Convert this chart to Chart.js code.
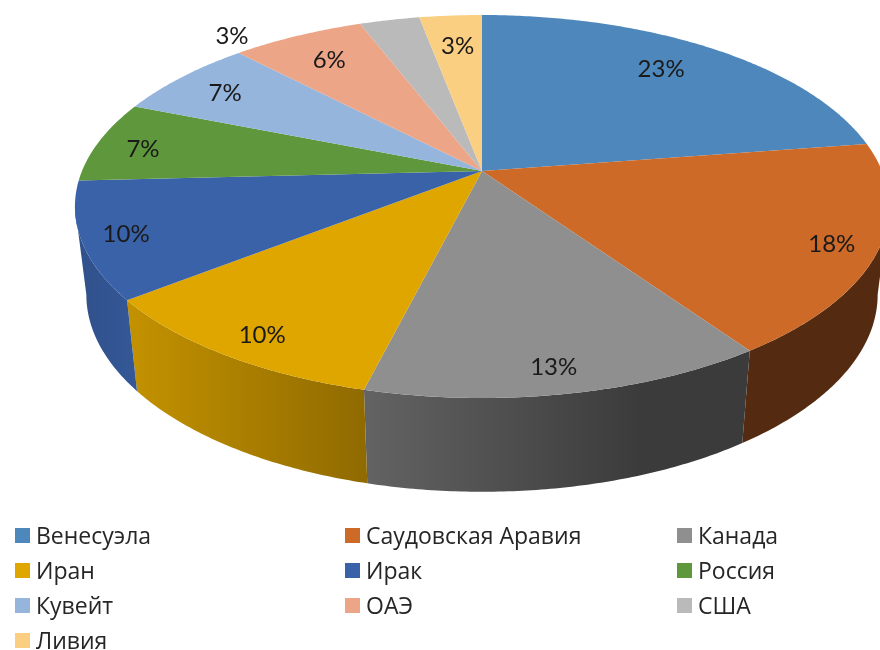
<!DOCTYPE html>
<html lang="ru">
<head>
<meta charset="utf-8">
<style>html,body{margin:0;padding:0;background:#fff}canvas{display:block}</style>
<script src="https://cdn.jsdelivr.net/npm/chart.js@4"></script>
</head>
<body>
<canvas id="c" width="880" height="650"></canvas>
<script>
const countries = ["Венесуэла","Саудовская Аравия","Канада","Иран","Ирак","Россия","Кувейт","ОАЭ","США","Ливия"];
const shares = [22.6,17.8,13.49,10.49,9.8,6.9,6.8,6.3,2.85,2.97];
const colors = ["#4e87bb","#cd6a28","#8f8f8f","#dfa600","#3a62a8","#5f973d","#95b5dd","#eca587","#bababa","#fbcf82"];

// Styling only: wall shade at the left and right end of each slice, and the share of the width the ramp covers
const wallShade = [[.4,.4,1],[.41,.41,1],[.69,.41,.72],[.88,.64,1],[.82,.9,1],[.8,.8,1],[.8,.8,1],[.8,.8,1],[.8,.8,1],[.8,.8,1]];
// Styling only: label placement relative to each slice's mid-angle [radius, angle nudge deg]
const labelPlace = [[.791,-1.6],[.894,.9],[.9,.7],[.896,-1.1],[.896,-.3],[.875,-1.5],[.834,-.8],[.8,-.2],[1.11,-24.8],[.776,.2]];

const view = {cx:482, cy:171, a:400, d:184.9, c:-.1854, wallKx:.972, wallKy:1.03, wallDy:87};
const project = (u,v) => { const w = 1 + view.c*v; return [view.cx + view.a*u/w, view.cy + view.d*v/w]; };
const projectLow = (u,v) => { const w = 1 + view.c*v;
  return [view.cx + view.wallKx*view.a*u/w, view.cy + view.wallKy*view.d*v/w + view.wallDy]; };
const mix = (hex,f) => { const n = parseInt(hex.slice(1),16);
  return `rgb(${Math.round((n>>16&255)*f)},${Math.round((n>>8&255)*f)},${Math.round((n&255)*f)})`; };
function arcPts(fn,a0,a1){ const n = Math.max(2,Math.ceil(Math.abs(a1-a0)/0.01)), p=[];
  for(let i=0;i<=n;i++){ const t=a0+(a1-a0)*i/n; p.push(fn(Math.cos(t),Math.sin(t))); } return p; }

const pie3d = {
  id:'pie3d',
  beforeDatasetDraw(chart){
    const ctx = chart.ctx, arcs = chart.getDatasetMeta(0).data;
    ctx.save();
    // side wall: visible between the two silhouette tangents of the projected rim
    const lo = Math.asin(-view.c), hi = Math.PI - lo;
    arcs.forEach((arc,i)=>{
      for (const off of [0, -2*Math.PI]) {
        const s = Math.max(arc.startAngle+off, lo), e = Math.min(arc.endAngle+off, hi);
        if (e <= s) continue;
        const top = arcPts(project,s,e), low = arcPts(projectLow,s,e);
        const xr = Math.max(top[0][0],low[0][0]), xl = Math.min(top[top.length-1][0],low[low.length-1][0]);
        const g = ctx.createLinearGradient(xl,0,xl+(xr-xl)*wallShade[i][2],0);
        g.addColorStop(0,mix(colors[i],wallShade[i][0]));
        g.addColorStop(1,mix(colors[i],wallShade[i][1]));
        ctx.fillStyle = g;
        ctx.beginPath();
        top.forEach((p,k)=> k?ctx.lineTo(p[0],p[1]):ctx.moveTo(p[0],p[1]));
        low.reverse().forEach(p=>ctx.lineTo(p[0],p[1]));
        ctx.closePath(); ctx.fill();
      }
    });
    // top face
    arcs.forEach((arc,i)=>{
      ctx.fillStyle = arc.options.backgroundColor;
      ctx.beginPath(); ctx.moveTo(view.cx,view.cy);
      arcPts(project,arc.startAngle,arc.endAngle).forEach(p=>ctx.lineTo(p[0],p[1]));
      ctx.closePath(); ctx.fill();
    });
    // data labels
    ctx.fillStyle = '#1a1a1a'; ctx.font = '24px Lato, "Open Sans", sans-serif';
    ctx.textAlign='center'; ctx.textBaseline='middle';
    const total = shares.reduce((a,b)=>a+b,0);
    arcs.forEach((arc,i)=>{
      const m = (arc.startAngle+arc.endAngle)/2 + labelPlace[i][1]*Math.PI/180, r = labelPlace[i][0];
      const [x,y] = project(r*Math.cos(m), r*Math.sin(m));
      ctx.fillText(Math.round(shares[i]/total*100)+'%', x, y);
    });
    // legend
    const colX = [15,345,677], rowY = [535.5,570.5,605.5,640.5];
    ctx.font = '23px "Open Sans", sans-serif'; ctx.textAlign='left';
    countries.forEach((name,i)=>{
      const x = colX[i%3], y = rowY[Math.floor(i/3)];
      ctx.fillStyle = colors[i]; ctx.fillRect(x,y-7.5,15,15);
      ctx.fillStyle = '#262626'; ctx.fillText(name, x+21, y+1.5);
    });
    ctx.restore();
    return false;
  }
};

new Chart(document.getElementById('c'),{
  type:'pie',
  data:{labels:countries,datasets:[{data:shares,backgroundColor:colors,borderWidth:0}]},
  options:{responsive:false,animation:false,plugins:{legend:{display:false},tooltip:{enabled:false}}},
  plugins:[pie3d]
});
</script>
</body>
</html>
